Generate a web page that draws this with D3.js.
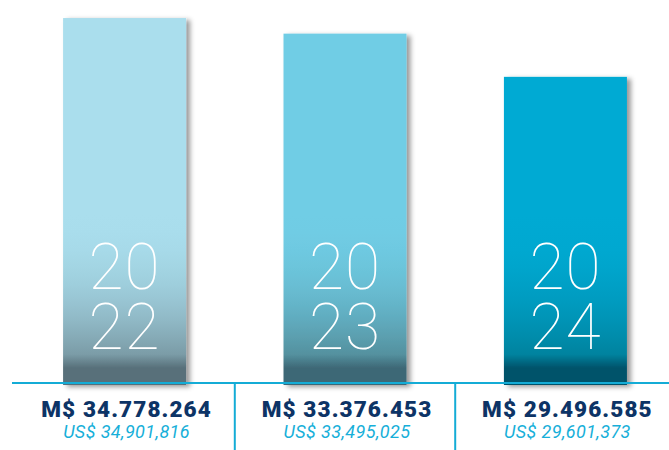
<!DOCTYPE html>
<html lang="en">
<head>
  <meta charset="UTF-8">
  <title>Recaudación</title>
  <style>
    body {
      margin: 0;
      padding: 0;
      background: #fff;
    }
    svg {
      display: block;
    }
  </style>
</head>
<body>
  <svg id="chart" width="669" height="450"></svg>
  <script src="https://d3js.org/d3.v7.min.js"></script>
  <script>
    const years = ['2022', '2023', '2024'];
    const clpValues = [34778264, 33376453, 29496585];
    const clpLabels = ['M$ 34.778.264', 'M$ 33.376.453', 'M$ 29.496.585'];
    const usdLabels = ['US$ 34,901,816', 'US$ 33,495,025', 'US$ 29,601,373'];

    const topColors = ['#aadeed', '#70cde5', '#00aad3'];
    const midColors = ['#7b9ca7', '#54919f', '#00839f'];
    const bottomColors = ['#58707a', '#3e6876', '#00526a'];

    const width = 669;
    const height = 450;
    const baseY = 383;

    const svg = d3.select('#chart');
    const defs = svg.append('defs');

    // soft shadow to the right of each bar
    const shadow = defs.append('filter')
      .attr('id', 'shadow')
      .attr('x', '-10%').attr('y', '-5%')
      .attr('width', '130%').attr('height', '115%');
    shadow.append('feDropShadow')
      .attr('dx', 4).attr('dy', 2)
      .attr('stdDeviation', 2.5)
      .attr('flood-color', '#000')
      .attr('flood-opacity', 0.4);

    // gradient eases in from the top colour, then a darker band at the foot
    years.forEach((yr, i) => {
      const g = defs.append('linearGradient')
        .attr('id', 'grad' + i)
        .attr('gradientUnits', 'userSpaceOnUse')
        .attr('x1', 0).attr('x2', 0)
        .attr('y1', 215).attr('y2', 385);
      const mix = d3.interpolateRgb(topColors[i], midColors[i]);
      d3.range(0, 1.01, 0.125).forEach(t => {
        g.append('stop')
          .attr('offset', (t * 0.82 * 100) + '%')
          .attr('stop-color', mix(d3.easeQuadIn(t)));
      });
      g.append('stop').attr('offset', '90%').attr('stop-color', bottomColors[i]);
      g.append('stop').attr('offset', '100%').attr('stop-color', bottomColors[i]);
    });

    const x = d3.scaleBand()
      .domain(years)
      .range([19, 671])
      .paddingInner(0.442)
      .paddingOuter(0.2);

    const y = d3.scaleLinear()
      .domain([2000000, 35500000])
      .range([baseY, 10]);

    // Bars
    svg.selectAll('.bar')
      .data(years)
      .enter()
      .append('rect')
      .attr('class', 'bar')
      .attr('x', d => x(d))
      .attr('y', (d, i) => y(clpValues[i]))
      .attr('width', x.bandwidth())
      .attr('height', (d, i) => baseY + 2 - y(clpValues[i]))
      .attr('fill', (d, i) => `url(#grad${i})`)
      .attr('filter', 'url(#shadow)');

    // Year numbers, split in two lines
    const yearLines = [[0, 2, 289], [2, 4, 349]];
    yearLines.forEach(([a, b, ty]) => {
      svg.selectAll('.year' + a)
        .data(years)
        .enter()
        .append('text')
        .attr('class', 'year' + a)
        .attr('x', d => x(d) + x.bandwidth() / 2)
        .attr('y', ty)
        .attr('text-anchor', 'middle')
        .attr('fill', '#fff')
        .style('font-family', 'Roboto, "Open Sans", sans-serif')
        .style('font-weight', 100)
        .style('font-size', '64px')
        .style('letter-spacing', '1px')
        .text(d => d.slice(a, b));
    });

    // Base line
    svg.append('line')
      .attr('x1', 12).attr('x2', width)
      .attr('y1', baseY).attr('y2', baseY)
      .attr('stroke', '#14acd6')
      .attr('stroke-width', 2.2);

    // Dividers between columns
    const mids = years.slice(1).map((d, i) => (x(years[i]) + x.bandwidth() + x(d)) / 2);
    svg.selectAll('.divider')
      .data(mids)
      .enter()
      .append('line')
      .attr('class', 'divider')
      .attr('x1', d => d).attr('x2', d => d)
      .attr('y1', baseY).attr('y2', height)
      .attr('stroke', '#14acd6')
      .attr('stroke-width', 2);

    // Value labels
    svg.selectAll('.clp')
      .data(years)
      .enter()
      .append('text')
      .attr('class', 'clp')
      .attr('x', d => x(d) + x.bandwidth() / 2 + 2)
      .attr('y', 417)
      .attr('text-anchor', 'middle')
      .attr('fill', '#0d3466')
      .style('font-family', 'Roboto, sans-serif')
      .style('font-weight', 900)
      .style('font-size', '22.5px')
      .style('letter-spacing', '1.1px')
      .text((d, i) => clpLabels[i]);

    svg.selectAll('.usd')
      .data(years)
      .enter()
      .append('text')
      .attr('class', 'usd')
      .attr('x', d => x(d) + x.bandwidth() / 2 + 2)
      .attr('y', 438)
      .attr('text-anchor', 'middle')
      .attr('fill', '#17afd9')
      .style('font-family', 'Roboto, sans-serif')
      .style('font-weight', 400)
      .style('font-style', 'italic')
      .style('font-size', '18px')
      .style('letter-spacing', '0.4px')
      .text((d, i) => usdLabels[i]);
  </script>
</body>
</html>
